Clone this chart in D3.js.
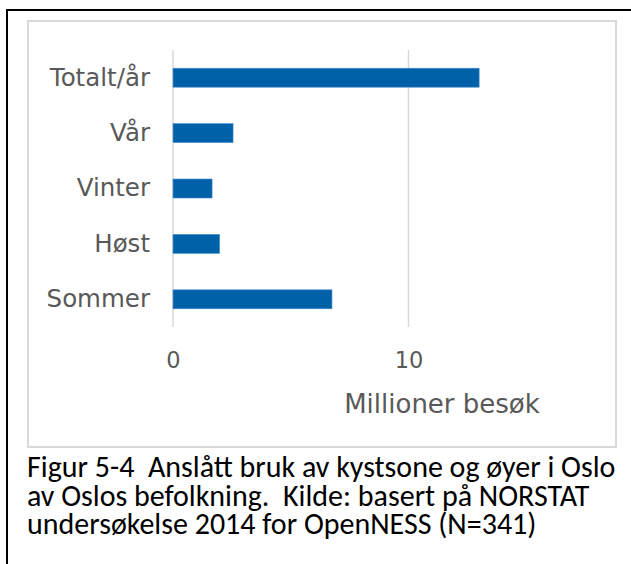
<!DOCTYPE html>
<html><head><meta charset="utf-8">
<script src="https://cdn.jsdelivr.net/npm/d3@7"></script>
<style>body{margin:0;background:#fff}svg{display:block}</style>
</head><body><svg id="c" width="631" height="564"></svg>
<script>
const categories = ["Totalt/år","Vår","Vinter","Høst","Sommer"];
const values = [13.0, 2.55, 1.66, 1.98, 6.75];
const xTicks = [0, 10];
const axisTitle = "Millioner besøk";
const captionLines = [
  "Figur 5-4  Anslått bruk av kystsone og øyer i Oslo",
  "av Oslos befolkning.  Kilde: basert på NORSTAT",
  "undersøkelse 2014 for OpenNESS (N=341)"
];

const svg = d3.select("#c");
svg.append("path").attr("d","M7,564 L7,10 L631,10").attr("fill","none").attr("stroke","#000").attr("stroke-width",2);
svg.append("rect").attr("x",28).attr("y",21).attr("width",588).attr("height",426)
  .attr("fill","#fff").attr("stroke","#d9d9d9").attr("stroke-width",2);

const x = d3.scaleLinear().domain([0,10]).range([173,408.5]);
const y = d3.scaleBand().domain(categories).range([50,327]).paddingInner(0.657).paddingOuter(0.3285);

svg.append("g").selectAll("line").data(xTicks).join("line")
  .attr("x1",d=>x(d)).attr("x2",d=>x(d)).attr("y1",50).attr("y2",327)
  .attr("stroke","#d9d9d9").attr("stroke-width",1.5);

svg.append("g").selectAll("rect").data(values).join("rect")
  .attr("x",x(0)).attr("y",(d,i)=>y(categories[i]))
  .attr("width",d=>x(d)-x(0)).attr("height",y.bandwidth())
  .attr("fill","#0060a8").attr("stroke","#4a8fd0").attr("stroke-width",0.6);

const yAxis = d3.axisLeft(y).tickSize(0).tickPadding(0);
const gy = svg.append("g").attr("transform","translate(150,0)").call(yAxis);
gy.select(".domain").remove();
gy.selectAll("text").attr("font-family","DejaVu Sans").attr("font-size",24.5).attr("fill","#595959");

const xAxis = d3.axisBottom(x).tickValues(xTicks).tickSize(0).tickPadding(0).tickFormat(d3.format("d"));
const gx = svg.append("g").attr("transform","translate(0,352)").call(xAxis);
gx.select(".domain").remove();
gx.selectAll("text").attr("font-family","DejaVu Sans").attr("font-size",22.5).attr("fill","#595959");

svg.append("text").attr("x",442).attr("y",413).attr("text-anchor","middle")
  .attr("font-family","DejaVu Sans").attr("font-size",26).attr("fill","#595959").text(axisTitle);

svg.append("g").selectAll("text").data(captionLines).join("text")
  .attr("x",27).attr("y",(d,i)=>477+i*28.5)
  .attr("font-family","Carlito, Calibri, sans-serif").attr("font-size",30).attr("fill","#000")
  .style("white-space","pre").attr("xml:space","preserve").text(d=>d);
</script></body></html>
